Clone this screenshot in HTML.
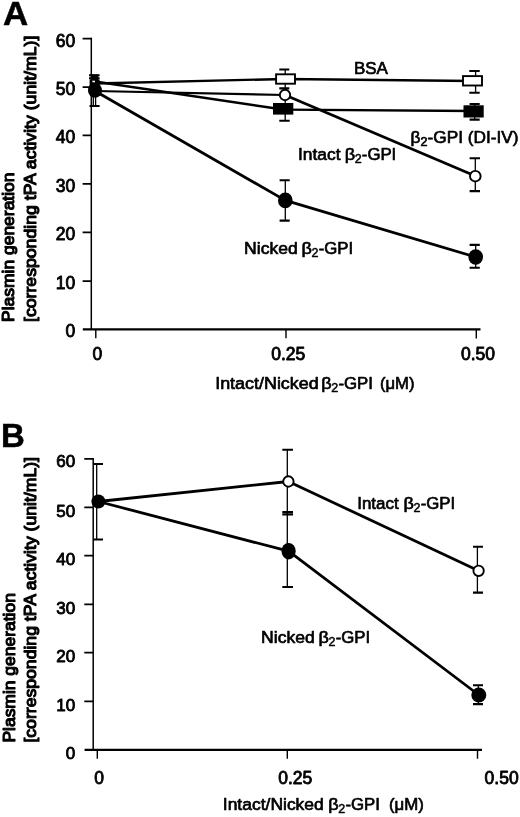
<!DOCTYPE html>
<html><head><meta charset="utf-8"><title>Figure</title>
<style>
html,body{margin:0;padding:0;background:#fff;}
svg{display:block;}
text{font-family:"Liberation Sans",Arial,Helvetica,sans-serif;fill:#000;}
.t{font-size:17.5px;stroke:#000;stroke-width:0.85px;stroke-linejoin:round;}
.l{font-size:17.2px;stroke-width:0.68px;}
.r{stroke-width:1.15px;}
.b{font-size:33.6px;font-weight:bold;stroke:#000;stroke-width:0.5px;}
.ln{stroke:#000;stroke-width:2.8;fill:none;stroke-linecap:butt;stroke-linejoin:round;}
.ax{stroke:#000;stroke-width:1.7;fill:none;}
.eb{stroke:#000;stroke-width:1.3;fill:none;}
.cap{stroke:#000;stroke-width:2.1;fill:none;}
.oc{fill:#fff;stroke:#000;stroke-width:1.9;}
.fc{fill:#000;stroke:none;}
.os{fill:#fff;stroke:#000;stroke-width:1.9;}
</style></head>
<body>
<svg width="520" height="817" viewBox="0 0 520 817">
<rect width="520" height="817" fill="#fff"/>

<!-- PANEL A -->
<text class="b" x="3.0" y="25.2" textLength="25.2" lengthAdjust="spacingAndGlyphs">A</text>
<path class="ax" d="M91.3 37.8V329.5" style="stroke-width:1.5"/>
<path class="ax" d="M82.8 329.4H480.5" style="stroke-width:2.3"/>
<path class="ax" d="M82.6 38.6H91.3M82.6 87.1H91.3M82.6 135.4H91.3M82.6 183.9H91.3M82.6 232.4H91.3M82.6 281.2H91.3"/>
<path class="ax" style="stroke-width:1.4" d="M95.8 329.5V338.3M286 329.5V338.3M476.3 329.5V338.5"/>
<text class="t" x="75.3" y="47.2" text-anchor="end">60</text>
<text class="t" x="75.3" y="95" text-anchor="end">50</text>
<text class="t" x="75.3" y="143.3" text-anchor="end">40</text>
<text class="t" x="75.3" y="191.7" text-anchor="end">30</text>
<text class="t" x="75.3" y="240.2" text-anchor="end">20</text>
<text class="t" x="75.3" y="289.2" text-anchor="end">10</text>
<text class="t" x="75.3" y="337.4" text-anchor="end">0</text>
<text class="t" x="97.3" y="360.3" text-anchor="middle">0</text>
<text class="t" x="288.2" y="360.3" text-anchor="middle">0.25</text>
<text class="t" x="478" y="360.4" text-anchor="middle">0.50</text>
<text class="t l" x="215.2" y="388.6" textLength="103.5" lengthAdjust="spacingAndGlyphs">Intact/Nicked</text>
<text class="t l" x="321.3" y="388.6" textLength="10.4" lengthAdjust="spacingAndGlyphs">β</text><text class="t" style="font-size:12.5px;stroke-width:0.5px" x="331.3" y="391.8">2</text><text class="t l" x="338.4" y="388.6" textLength="34.5" lengthAdjust="spacingAndGlyphs">-GPI</text>
<text class="t l" x="379.9" y="388.6" textLength="34.6" lengthAdjust="spacingAndGlyphs">(μM)</text>
<text class="t r" transform="translate(14.0,322) rotate(-90) scale(1,0.96)" textLength="149.5" lengthAdjust="spacingAndGlyphs">Plasmin generation</text>
<text class="t r" transform="translate(35.5,322) rotate(-90) scale(1,0.96)" textLength="286.3" lengthAdjust="spacingAndGlyphs">[corresponding tPA activity (unit/mL)]</text>
<path class="ln" style="stroke-width:2.3" d="M95 83.5L285.5 79L472.5 81"/>
<path class="ln" style="stroke-width:2.5" d="M95 81.5L283 109.5"/>
<path class="ln" style="stroke-width:2.3" d="M283 109.7L473.5 111"/>
<path class="ln" style="stroke-width:2.2" d="M95 91L285 95"/>
<path class="ln" d="M285 95L475.3 176"/>
<path class="ln" d="M95 91L285.3 200.4L475.7 257"/>
<path class="eb" d="M93.3 75V106M95.6 75V106M285.2 69.5V120.8M285.3 180V220.6M475.6 71V93M474.7 104V119.6M475.3 158V191M475.7 245V268"/>
<path class="cap" d="M89 75.2H99.6M89 78.3H99.6M89.5 106H99.6M279.3 69.5H289.3M279.3 88.4H289.3M279.6 180.2H289.7M279.6 220.6H289.7M469.3 71H479.7M469.3 92.8H479.7M469.6 104H479.7M469.6 119.6H479.7M469.6 158.2H480M469.6 191.1H480M469.6 244.9H479.8M469.6 267.8H479.8M279.3 120.8H289.7"/>
<rect class="fc" x="89.6" y="79.5" width="10" height="8"/>
<rect class="fc" x="91.3" y="74.5" width="7" height="6"/>
<rect x="92.4" y="80.7" width="2.6" height="1.6" fill="#fff"/>
<ellipse class="fc" cx="95" cy="90.5" rx="7" ry="7.3"/>
<rect class="os" x="276.1" y="74.3" width="18.9" height="9.4"/>
<circle class="oc" cx="285" cy="95" r="5.2"/>
<rect class="fc" x="273" y="103" width="20.3" height="11.6"/>
<ellipse class="fc" cx="285.3" cy="200.4" rx="7.3" ry="7.9"/>
<rect class="os" x="463" y="76.1" width="19" height="9.4"/>
<rect class="fc" x="463.5" y="105.3" width="20.2" height="12.2"/>
<circle class="oc" cx="475.3" cy="176.2" r="5.3"/>
<ellipse class="fc" cx="475.7" cy="257" rx="7.3" ry="7.8"/>
<text class="t l" x="353.9" y="74.4" textLength="34" lengthAdjust="spacingAndGlyphs">BSA</text>
<text class="t l" x="410.6" y="142.5" textLength="108" lengthAdjust="spacingAndGlyphs">β<tspan font-size="12.5" dy="3.2">2</tspan><tspan dy="-3.2">-GPI (DI-IV)</tspan></text>
<text class="t l" x="298.0" y="159.5" textLength="42.6" lengthAdjust="spacingAndGlyphs">Intact</text>
<text class="t l" x="344.7" y="159.5" textLength="10.4" lengthAdjust="spacingAndGlyphs">β</text><text class="t" style="font-size:12.5px;stroke-width:0.5px" x="354.7" y="162.7">2</text><text class="t l" x="361.8" y="159.5" textLength="34.5" lengthAdjust="spacingAndGlyphs">-GPI</text>
<text class="t l" x="244.1" y="253.7" textLength="53.8" lengthAdjust="spacingAndGlyphs">Nicked</text>
<text class="t l" x="301.6" y="253.7" textLength="10.4" lengthAdjust="spacingAndGlyphs">β</text><text class="t" style="font-size:12.5px;stroke-width:0.5px" x="311.6" y="256.9">2</text><text class="t l" x="318.7" y="253.7" textLength="34.5" lengthAdjust="spacingAndGlyphs">-GPI</text>
<!-- PANEL B -->
<text class="b" x="0.9" y="446.5" textLength="23.8" lengthAdjust="spacingAndGlyphs">B</text>
<path class="ax" d="M93.2 458V750" style="stroke-width:1.5"/>
<path class="ax" d="M84.6 749.8H482" style="stroke-width:2.3"/>
<path class="ax" d="M84.3 458.8H93.2M84.3 507.3H93.2M84.3 555.7H93.2M84.3 604.4H93.2M84.3 652.7H93.2M84.3 701.4H93.2"/>
<path class="ax" style="stroke-width:1.4" d="M97.3 750V758.8M287.3 750V758.8M477.5 750V758.8"/>
<text class="t" style="font-size:17px" x="75.2" y="466.6" text-anchor="end">60</text>
<text class="t" style="font-size:17px" x="75.2" y="516.8" text-anchor="end">50</text>
<text class="t" style="font-size:17px" x="75.2" y="565.3" text-anchor="end">40</text>
<text class="t" style="font-size:17px" x="75.2" y="614.1" text-anchor="end">30</text>
<text class="t" style="font-size:17px" x="75.2" y="662.2" text-anchor="end">20</text>
<text class="t" style="font-size:17px" x="75.2" y="711" text-anchor="end">10</text>
<text class="t" style="font-size:17px" x="75.2" y="759.3" text-anchor="end">0</text>
<text class="t" x="99.2" y="783.9" text-anchor="middle">0</text>
<text class="t" x="295.2" y="783.9" text-anchor="middle">0.25</text>
<text class="t" x="501.6" y="783.9" text-anchor="middle">0.50</text>
<text class="t l" x="222.8" y="810" textLength="101" lengthAdjust="spacingAndGlyphs">Intact/Nicked</text>
<text class="t l" x="328.3" y="810" textLength="10.4" lengthAdjust="spacingAndGlyphs">β</text><text class="t" style="font-size:12.5px;stroke-width:0.5px" x="338.3" y="813.2">2</text><text class="t l" x="345.4" y="810" textLength="34.5" lengthAdjust="spacingAndGlyphs">-GPI</text>
<text class="t l" x="389" y="810" textLength="34.9" lengthAdjust="spacingAndGlyphs">(μM)</text>
<text class="t r" transform="translate(14.8,742.6) rotate(-90) scale(1,0.96)" textLength="149.5" lengthAdjust="spacingAndGlyphs">Plasmin generation</text>
<text class="t r" transform="translate(35.9,742.6) rotate(-90) scale(1,0.96)" textLength="285.6" lengthAdjust="spacingAndGlyphs">[corresponding tPA activity (unit/mL)]</text>
<path class="ln" d="M98.4 501.5L288.4 481.5L478.6 570.8"/>
<path class="ln" d="M98.4 501.5L288.6 551.2L478.8 695"/>
<path class="eb" d="M96.7 464V539.5M287.3 449.8V587M477.4 546.8V592.6M478.3 685.3V704.1"/>
<path class="cap" d="M93.2 464H103M93.2 539.5H103M282.3 449.8H293M282.3 512H293M282.3 514.4H293M282.3 587H293M473 546.8H483M473 592.6H483M473 685.3H483M473 704.1H483"/>
<circle class="fc" cx="98.4" cy="501.5" r="7"/>
<circle class="oc" cx="288.4" cy="481.5" r="5.2"/>
<ellipse class="fc" cx="288.6" cy="551.2" rx="7.1" ry="8.3"/>
<circle class="oc" cx="478.6" cy="570.8" r="5.2"/>
<ellipse class="fc" cx="478.8" cy="695" rx="7.5" ry="7.4"/>
<text class="t l" x="357.2" y="508.6" textLength="41.5" lengthAdjust="spacingAndGlyphs">Intact</text>
<text class="t l" x="403.6" y="508.6" textLength="10.4" lengthAdjust="spacingAndGlyphs">β</text><text class="t" style="font-size:12.5px;stroke-width:0.5px" x="413.6" y="511.8">2</text><text class="t l" x="420.7" y="508.6" textLength="34.5" lengthAdjust="spacingAndGlyphs">-GPI</text>
<text class="t l" x="261.1" y="642.5" textLength="53.8" lengthAdjust="spacingAndGlyphs">Nicked</text>
<text class="t l" x="318.6" y="642.5" textLength="10.4" lengthAdjust="spacingAndGlyphs">β</text><text class="t" style="font-size:12.5px;stroke-width:0.5px" x="328.6" y="645.7">2</text><text class="t l" x="335.7" y="642.5" textLength="34.5" lengthAdjust="spacingAndGlyphs">-GPI</text>
</svg>
</body></html>
